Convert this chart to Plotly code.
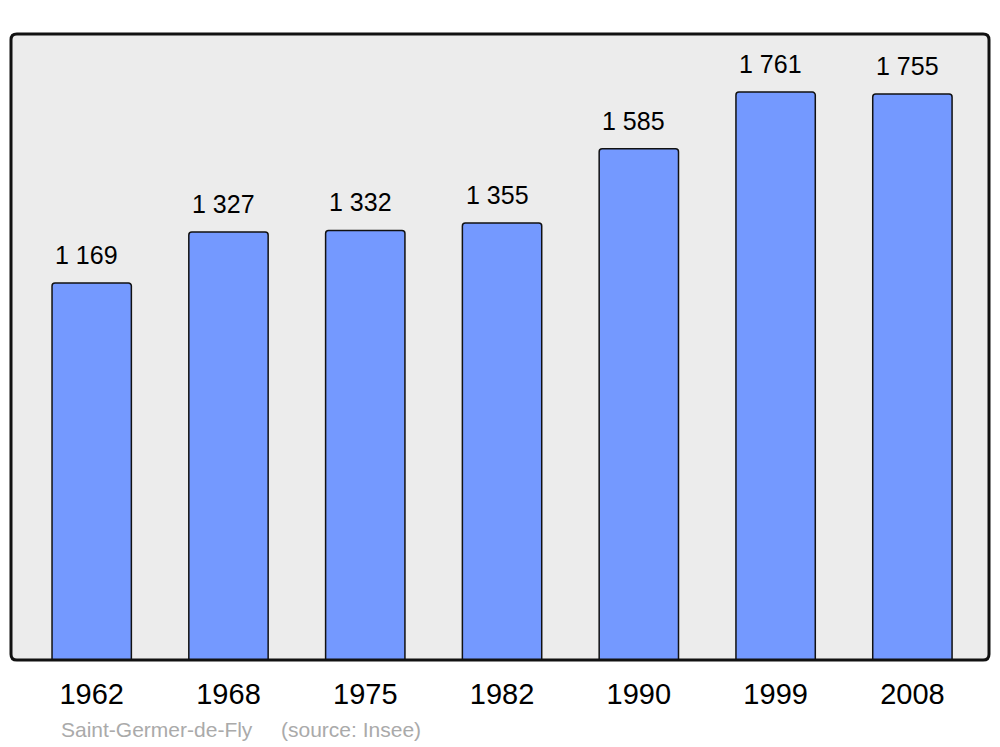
import plotly.graph_objects as go

years = ["1962", "1968", "1975", "1982", "1990", "1999", "2008"]
population = [1169, 1327, 1332, 1355, 1585, 1761, 1755]
commune = "Saint-Germer-de-Fly"
source = "(source: Insee)"

FONT = "Liberation Sans, Arial, sans-serif"

fig = go.Figure()
fig.add_trace(go.Bar(
    x=years, y=population, width=0.58,
    marker=dict(color="#7499ff", line=dict(color="#111111", width=1.5), cornerradius=3),
    hoverinfo="x+y",
))

for i, v in enumerate(population):
    fig.add_annotation(x=i, y=v, text=f"{v:,}".replace(",", " "), showarrow=False,
                       yshift=28, xshift=-5, yanchor="middle",
                       font=dict(family=FONT, size=25, color="#000000"))

fig.add_annotation(x=0.0491, y=-0.1118, xref="paper", yref="paper", text=commune,
                   showarrow=False, xanchor="left", yanchor="middle",
                   font=dict(family=FONT, size=21, color="#aaaaaa"))
fig.add_annotation(x=0.274, y=-0.1118, xref="paper", yref="paper", text=source,
                   showarrow=False, xanchor="left", yanchor="middle",
                   font=dict(family=FONT, size=21, color="#aaaaaa"))

# rounded frame
r = 0.006
ry = r * 978 / 626
path = (f"M {r},0 L {1-r},0 Q 1,0 1,{ry} L 1,{1-ry} Q 1,1 {1-r},1 "
        f"L {r},1 Q 0,1 0,{1-ry} L 0,{ry} Q 0,0 {r},0 Z")
fig.add_shape(type="path", xref="paper", yref="paper", path=path,
              line=dict(color="#111111", width=3), layer="above")

# page body has an 8px default margin; compensate
fig.update_layout(
    width=992, height=739,
    margin=dict(l=3, r=11, t=26, b=87),
    paper_bgcolor="#ffffff", plot_bgcolor="#ececec",
    showlegend=False,
    xaxis=dict(type="category", range=[-0.59, 6.56], showgrid=False, zeroline=False,
               ticks="", ticklabelstandoff=14,
               tickfont=dict(family=FONT, size=29, color="#000000")),
    yaxis=dict(range=[0, 1941], showgrid=False, zeroline=False, showticklabels=False, ticks=""),
    font=dict(family=FONT),
)

fig.write_html("out.html")
